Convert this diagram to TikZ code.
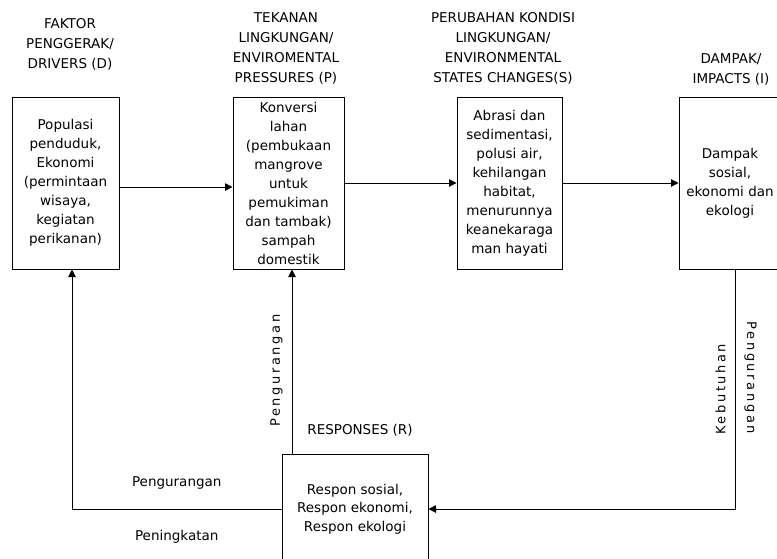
\documentclass[tikz,border=0pt]{standalone}
\usepackage{fontspec}
\setmainfont{DejaVu Sans}
\newfontfamily\spacedfont[LetterSpace=20]{DejaVu Sans}
\usetikzlibrary{arrows.meta, positioning}

\begin{document}
\begin{tikzpicture}[
  x=1pt, y=-1pt,
  box/.style={rectangle, draw, line width=1pt, align=center, inner sep=2pt,
              font=\fontsize{13.5}{19}\selectfont, minimum height=172pt},
  ttl/.style={align=center, font=\fontsize{13.5}{20}\selectfont},
  lbl/.style={font=\fontsize{13.5}{19}\selectfont},
  vlbl/.style={font=\spacedfont\fontsize{13}{15}\selectfont, inner sep=9pt},
  arrow/.style={-{Triangle[length=7.5pt, width=7.5pt]}, line width=1pt}
]

\useasboundingbox (0,0) rectangle (777,558);
\clip (0,0) rectangle (777,558);

% Column titles
\node[ttl] (drv_ttl) at (70,44)    {FAKTOR\\PENGGERAK/\\DRIVERS (D)};
\node[ttl] (prs_ttl) at (286,48)   {TEKANAN\\LINGKUNGAN/\\ENVIROMENTAL\\PRESSURES (P)};
\node[ttl] (stt_ttl) at (503,48)   {PERUBAHAN KONDISI\\LINGKUNGAN/\\ENVIRONMENTAL\\STATES CHANGES(S)};
\node[ttl] (imp_ttl) at (731,69.5) {DAMPAK/\\IMPACTS (I)};

% DPSI boxes
\node[box, minimum width=107pt] (drv) at (65.5,183)
      {Populasi\\penduduk,\\Ekonomi\\(permintaan\\wisaya,\\kegiatan\\perikanan)};
\node[box, minimum width=111pt] (prs) at (288.5,183)
      {Konversi\\lahan\\(pembukaan\\mangrove\\untuk\\pemukiman\\dan tambak)\\sampah\\domestik};
\node[box, minimum width=105pt] (stt) at (509.5,183)
      {Abrasi dan\\sedimentasi,\\polusi air,\\kehilangan\\habitat,\\menurunnya\\keanekaraga\\man hayati};
\node[box, minimum width=102pt] (imp) at (730,183)
      {Dampak\\sosial,\\ekonomi dan\\ekologi};

\draw[arrow] ([yshift=-4pt]drv.east) -- ([yshift=-4pt]prs.west);
\draw[arrow] (prs) -- (stt);
\draw[arrow] (stt) -- (imp);

% Responses
\node[ttl] (rsp_ttl) at (360,430) {RESPONSES (R)};
\node[box, minimum width=146pt, minimum height=110pt,
      font=\fontsize{13.5}{18.5}\selectfont] (rsp) at (355,509)
      {Respon sosial,\\Respon ekonomi,\\Respon ekologi};

\coordinate (imp_out) at ([xshift=5pt]imp.south);
\coordinate (prs_in)  at ([xshift=3.5pt]prs.south);
\coordinate (drv_in)  at ([xshift=6.5pt]drv.south);

% Feedback loops
\draw[arrow] (imp_out) |- (rsp.east)
  node[vlbl, pos=.25, rotate=90, anchor=south] {Kebutuhan}
  node[vlbl, pos=.226, rotate=-90, anchor=south] {Pengurangan};
\draw[arrow] (prs_in |- rsp.north) -- (prs_in)
  node[vlbl, pos=.45, rotate=90, anchor=south] {Pengurangan};
\draw[arrow] (rsp.west) -| (drv_in)
  node[lbl, pos=.25, yshift=26pt] {Pengurangan}
  node[lbl, pos=.25, yshift=-28pt] {Peningkatan};

\end{tikzpicture}
\end{document}
